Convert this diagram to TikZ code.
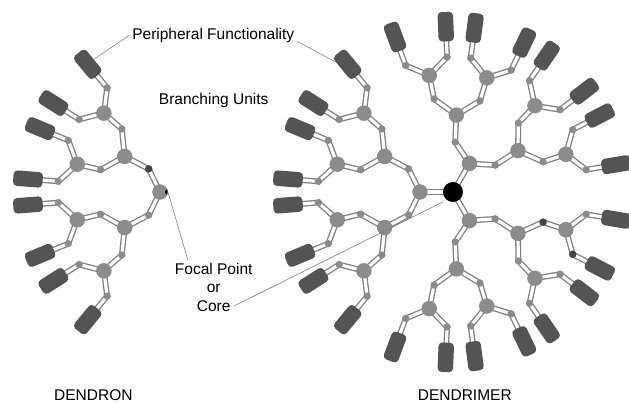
\documentclass[tikz,border=0pt]{standalone}
\usepackage{fontspec}
\setmainfont{Liberation Sans}
\usepackage{tikz}
\pgfdeclarelayer{background}
\pgfsetlayers{background,main}

\definecolor{unitgray}{gray}{0.55}
\definecolor{capgray}{gray}{0.33}
\definecolor{beaddark}{gray}{0.27}
\definecolor{linkgray}{gray}{0.5}
\definecolor{leadgray}{gray}{0.5}

% one branch: two units, four units, eight end groups
\newcommand\branch[2]{%
  \foreach \si [count=\ci] in {-1,1} {
    \pgfmathsetmacro\atwo{#2+27.5*\si}
    \node[bead] (#1-\ci-bd) at (\atwo:50) {};
    \node[unit] (#1-\ci) at (\atwo:77) {};
    \begin{pgfonlayer}{background}
      \draw[link] (#1.center) -- (#1-\ci-bd.center) -- (#1-\ci.center);
    \end{pgfonlayer}
    \foreach \sj [count=\cj] in {-1,1} {
      \pgfmathsetmacro\athree{\atwo+14*\sj}
      \node[bead] (#1-\ci-\cj-bd) at (\athree:95) {};
      \node[unit] (#1-\ci-\cj) at (\athree:119) {};
      \begin{pgfonlayer}{background}
        \draw[link] (#1-\ci.center) -- (#1-\ci-\cj-bd.center) -- (#1-\ci-\cj.center);
      \end{pgfonlayer}
      \foreach \sk [count=\ck] in {-1,1} {
        \pgfmathsetmacro\aend{\athree+9*\sk}
        \node[bead] (#1-\ci-\cj-\ck-bd) at (\aend:135) {};
        \node[endgroup, rotate=\aend] (#1-\ci-\cj-\ck) at (\aend:165.5) {};
        \begin{pgfonlayer}{background}
          \draw[link] (#1-\ci-\cj.center) -- (#1-\ci-\cj-\ck-bd.center) -- (#1-\ci-\cj-\ck.center);
        \end{pgfonlayer}
      }
    }
  }%
}

\begin{document}
\begin{tikzpicture}[x=1pt, y=1pt,
	unit/.style={circle, fill=unitgray, minimum size=15.5pt, inner sep=0pt},
	bead/.style={circle, fill=unitgray, minimum size=7.4pt, inner sep=0pt},
	endgroup/.style={rectangle, rounded corners=4pt, fill=capgray, minimum width=29.5pt, minimum height=15.5pt, inner sep=0pt},
	link/.style={draw=linkgray, line width=1.3pt, double=white, double distance=3.2pt},
	leader/.style={draw=leadgray, line width=0.6pt},
	txt/.style={font=\fontsize{15.5}{18.6}\selectfont, inner sep=3pt}]
	\useasboundingbox (-453,-211) rectangle (176,192);

	% dendrimer
	\node[circle, fill=black, minimum size=20pt, inner sep=0pt] (core) at (0,0) {};
	\foreach \a [count=\n] in {60,180,300} {
		\node[unit] (u\n) at (\a:33) {};
		\begin{pgfonlayer}{background}
			\draw[link] (core.center) -- (u\n.center);
		\end{pgfonlayer}
		\branch{u\n}{\a}
	}

	% dendron
	\begin{scope}[xshift=-260pt]
		\node[unit] (f) at (180:33) {};
		\branch{f}{180}
	\end{scope}
	\begin{scope}
		\clip (f) circle [radius=7.75];
		\fill (f.east) circle [radius=3];
	\end{scope}

	\fill[beaddark] (f-1-bd) circle [radius=3.7];
	\fill[beaddark] (u3-2-2-bd) circle [radius=3.7];
	\fill[beaddark] (u3-2-2-1-bd) circle [radius=3.7];

	\node[txt, anchor=base] (periph) at (-239.7,152.5) {Peripheral Functionality};
	\node[txt, anchor=base] (branching) at (-239.3,87.5) {Branching Units};
	\node[txt, anchor=base] (focal) at (-239.3,-82.5) {Focal Point};
	\node[txt, anchor=base] (or) at ([yshift=-18.5pt]focal.base) {or};
	\node[txt, anchor=base] (corelabel) at ([yshift=-18.5pt]or.base) {Core};
	\node[txt, anchor=base] (dendron) at (-359.6,-208.5) {DENDRON};
	\node[txt, anchor=base] (dendrimer) at (11.8,-208.5) {DENDRIMER};

	\draw[leader] (periph.west) -- (f-1-1-1.south);
	\draw[leader] (periph.-4) -- (u2-1-1-1.40);
	\draw[leader] (focal.161) -- (f.east);
	\draw[leader, shorten >=4pt] (corelabel.east) -- (core.232);
\end{tikzpicture}
\end{document}
